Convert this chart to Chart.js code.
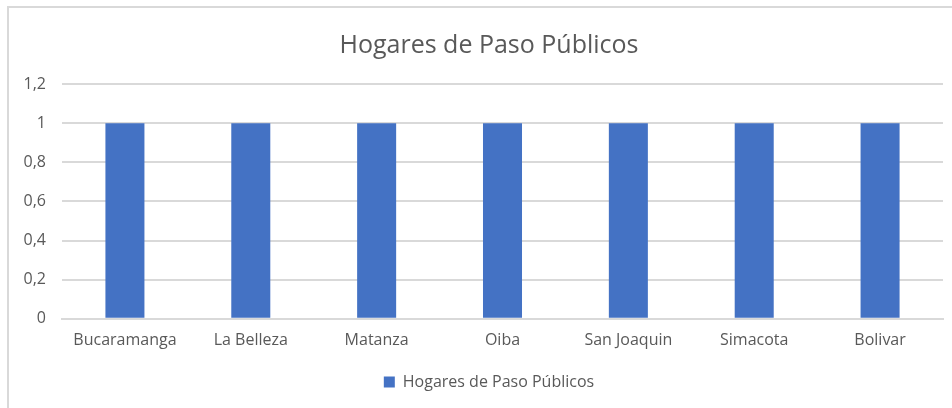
<!DOCTYPE html>
<html><head><meta charset="utf-8">
<script src="https://cdn.jsdelivr.net/npm/chart.js@4"></script>
<style>
html,body{margin:0;padding:0;background:#fff;width:952px;height:408px;overflow:hidden;position:relative}
#frame{position:absolute;left:7px;top:6px;width:1000px;height:500px;border:2px solid #d9d9d9;box-sizing:border-box}
#wrap{position:absolute;left:0;top:0;width:978px;height:408px}
</style></head>
<body>
<div id="frame"></div>
<div id="wrap"><canvas id="c" width="978" height="408"></canvas></div>
<script>
const categories = ["Bucaramanga","La Belleza","Matanza","Oiba","San Joaquin","Simacota","Bolivar"];
const seriesName = "Hogares de Paso Públicos";
const values = [1,1,1,1,1,1,1];
const yTicks = [0,0.2,0.4,0.6,0.8,1,1.2];

const FONT = "'Open Sans', 'Noto Sans', sans-serif";
const GREY = "#595959";
new Chart(document.getElementById('c'), {
  type: 'bar',
  data: { labels: categories, datasets: [{ label: seriesName, data: values, backgroundColor: '#4472C4', borderWidth: 0, categoryPercentage: 1, barPercentage: 0.31, yAxisID: 'y' }] },
  options: {
    responsive: false, animation: false,
    layout: { padding: { left: 0, right: 0, top: 0, bottom: 8 } },
    plugins: {
      title: { display: true, text: seriesName, color: GREY, font: { family: FONT, size: 25, weight: 'normal' }, padding: { top: 31, bottom: 23 } },
      legend: { position: 'bottom', labels: { color: GREY, font: { family: FONT, size: 16 }, boxWidth: 11, boxHeight: 11, padding: 12 } },
      tooltip: { enabled: false }
    },
    scales: {
      x: { grid: { display: false, drawTicks: false }, border: { display: true, color: '#d9d9d9', width: 2 },
           ticks: { color: GREY, font: { family: FONT, size: 16 }, padding: 12, maxRotation: 0 } },
      y: { min: 0, max: 1.2, afterBuildTicks: s => { s.ticks = yTicks.map(v => ({ value: v })); },
           afterFit: s => { s.width = 62; },
           grid: { color: '#d9d9d9', lineWidth: 2, drawTicks: false }, border: { display: false },
           ticks: { color: GREY, font: { family: FONT, size: 16 }, padding: 16, callback: v => String(Math.round(v*10)/10).replace('.', ',') } },
      spacer: { position: 'right', display: true, min: 0, max: 1.2, afterFit: s => { s.width = 35; },
           grid: { display: false, drawTicks: false }, border: { display: false }, ticks: { display: false } }
    }
  }
});
</script>
</body></html>
